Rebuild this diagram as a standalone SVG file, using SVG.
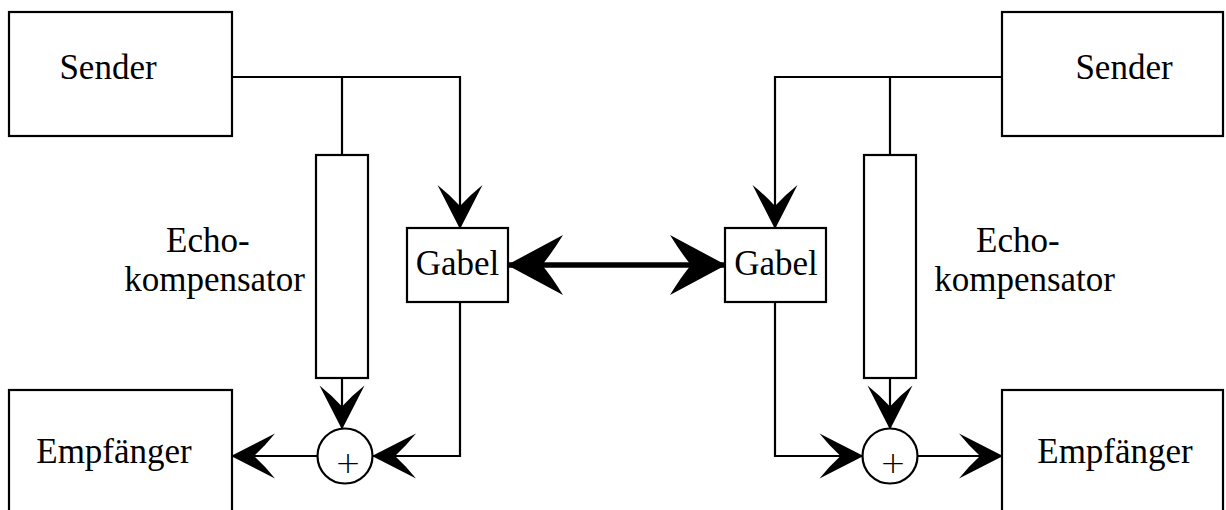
<svg xmlns="http://www.w3.org/2000/svg" width="1226" height="510" viewBox="0 0 1226 510">
<style>
.box{fill:#fff;stroke:#000;stroke-width:2.2}
.t{font-family:"Liberation Serif","Times New Roman",serif;font-size:35px;fill:#000}
.plus{font-family:"DejaVu Sans","Liberation Sans",sans-serif;font-weight:200;font-size:31px;fill:#000;text-anchor:middle}
.c{fill:none;stroke:#000;stroke-width:2.2}
.thick{fill:none;stroke:#000;stroke-width:5.5}
</style>
<defs>
<marker id="a" markerUnits="userSpaceOnUse" viewBox="-50 -30 52 60" refX="0" refY="0" markerWidth="52" markerHeight="60" orient="auto" overflow="visible">
<path d="M1,0 L-43,-22.5 Q-33,-10 -22,0 Q-33,10 -43,22.5 Z" fill="#000"/>
</marker>
<marker id="b" markerUnits="userSpaceOnUse" viewBox="-60 -35 62 70" refX="0" refY="0" markerWidth="62" markerHeight="70" orient="auto-start-reverse" overflow="visible">
<path d="M1,0 L-55,-30 Q-44,-12 -34,0 Q-44,12 -55,30 Z" fill="#000"/>
</marker>
</defs>
<g id="connectors">
<path class="c" d="M232,77 H460 V228" marker-end="url(#a)"/>
<path class="c" d="M342,77 V155"/>
<path class="c" d="M342,378 V428.5" marker-end="url(#a)"/>
<path class="c" d="M460,302 V456 H373" marker-end="url(#a)"/>
<path class="c" d="M317.5,456 H232" marker-end="url(#a)"/>
<path class="thick" d="M508,265 H725" marker-start="url(#b)" marker-end="url(#b)"/>
<path class="c" d="M1002,77 H775 V228" marker-end="url(#a)"/>
<path class="c" d="M890,77 V155"/>
<path class="c" d="M890,378 V428.5" marker-end="url(#a)"/>
<path class="c" d="M775,302 V456 H862.5" marker-end="url(#a)"/>
<path class="c" d="M917.5,456 H1002" marker-end="url(#a)"/>
</g>
<g id="sender-left">
<rect class="box" x="9" y="12" width="223" height="124"/>
<text class="t" x="108" y="79" text-anchor="middle">Sender</text>
</g>
<g id="sender-right">
<rect class="box" x="1002" y="12" width="221" height="124"/>
<text class="t" x="1124" y="79" text-anchor="middle">Sender</text>
</g>
<g id="echo-left">
<rect class="box" x="316" y="155" width="52" height="223"/>
<text class="t" x="166" y="252">Echo-</text>
<text class="t" x="305" y="291" text-anchor="end">kompensator</text>
</g>
<g id="echo-right">
<rect class="box" x="864" y="155" width="52" height="223"/>
<text class="t" x="976" y="252">Echo-</text>
<text class="t" x="1115" y="291" text-anchor="end">kompensator</text>
</g>
<g id="gabel-left">
<rect class="box" x="407" y="228" width="101" height="74"/>
<text class="t" x="457.5" y="275" text-anchor="middle">Gabel</text>
</g>
<g id="gabel-right">
<rect class="box" x="725" y="228" width="101" height="74"/>
<text class="t" x="776" y="275" text-anchor="middle">Gabel</text>
</g>
<g id="sum-left">
<circle class="box" cx="345" cy="456" r="27.5"/>
<text class="plus" x="348" y="473">+</text>
</g>
<g id="sum-right">
<circle class="box" cx="890" cy="456" r="27.5"/>
<text class="plus" x="893" y="473">+</text>
</g>
<g id="empf-left">
<rect class="box" x="9" y="390" width="223" height="140"/>
<text class="t" x="114" y="463" text-anchor="middle">Empfänger</text>
</g>
<g id="empf-right">
<rect class="box" x="1002" y="390" width="221" height="140"/>
<text class="t" x="1115" y="463" text-anchor="middle">Empfänger</text>
</g>
</svg>
